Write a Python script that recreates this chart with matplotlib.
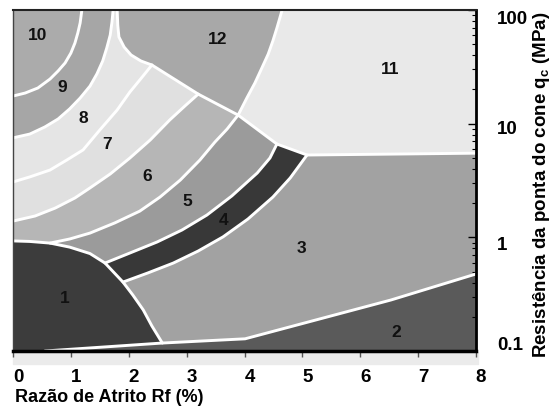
import matplotlib
matplotlib.use('Agg')
import matplotlib.pyplot as plt
from matplotlib.patches import Rectangle
from matplotlib.ticker import NullFormatter
from matplotlib.transforms import ScaledTranslation

plt.rcParams['font.family'] = 'Liberation Sans'
plt.rcParams['font.weight'] = 'bold'
plt.rcParams['mathtext.fontset'] = 'custom'
plt.rcParams['mathtext.rm'] = 'Liberation Sans:bold'
plt.rcParams['mathtext.it'] = 'Liberation Sans:bold'

# ── Zone boundaries: Rf (%) vs qc (MPa) ──────────────────────────────────────
rf_10_9 = [0, 0.21, 0.43, 0.64, 0.78, 0.90, 1.00, 1.07, 1.12, 1.16, 1.19]
qc_10_9 = [17.5, 18.6, 20.6, 24.7, 29.1, 34.2, 41.8, 51.2, 62.8, 76.9, 100]
rf_9_8 = [0, 0.29, 0.55, 0.78, 0.98, 1.16, 1.33, 1.45, 1.55, 1.62, 1.68, 1.71, 1.73]
qc_9_8 = [7.5, 8.1, 9.35, 11.0, 13.5, 16.8, 21.4, 27.4, 35.6, 46.3, 60.3, 78.4, 100]
rf_8_7 = [0, 0.29, 0.64, 0.93, 1.21, 1.50, 1.80, 2.02, 2.19, 2.40]
qc_8_7 = [3.07, 3.40, 3.91, 4.79, 5.87, 8.8, 13.2, 19.0, 24.2, 32.8]
rf_7_6 = [0, 0.38, 0.73, 1.07, 1.33, 1.68, 2.02, 2.37, 2.71, 2.97, 3.20]
qc_7_6 = [1.39, 1.54, 1.81, 2.22, 2.72, 3.61, 4.99, 7.18, 10.8, 14.3, 18.2]
rf_6_5 = [0.64, 0.98, 1.33, 1.76, 2.19, 2.54, 2.89, 3.23, 3.49, 3.70, 3.89]
qc_6_5 = [0.89, 0.967, 1.09, 1.34, 1.70, 2.26, 3.19, 4.79, 6.90, 8.97, 11.9]
rf_5_4 = [1.59, 2.02, 2.49, 2.92, 3.35, 3.78, 4.22, 4.44, 4.56]
qc_5_4 = [0.594, 0.728, 0.910, 1.16, 1.57, 2.31, 3.68, 4.99, 6.62]
rf_4_3 = [1.90, 2.33, 2.77, 3.20, 3.63, 4.06, 4.49, 4.79, 5.08]
qc_4_3 = [0.404, 0.486, 0.594, 0.758, 1.01, 1.45, 2.26, 3.33, 5.3]
rf_zone1 = [0, 0.29, 0.64, 0.98, 1.33, 1.59, 1.90, 2.07, 2.25, 2.40, 2.58]
qc_zone1 = [0.93, 0.92, 0.89, 0.82, 0.72, 0.594, 0.404, 0.311, 0.230, 0.166, 0.1175]
rf_zone2 = [0.55, 2.58, 4.01, 6.53, 8.0]
qc_zone2 = [0.1, 0.1175, 0.128, 0.281, 0.476]
rf_cusp = [1.80, 1.81, 1.83, 1.92, 2.04, 2.21, 2.40]
qc_cusp = [100, 73.8, 57.9, 47.2, 40.2, 35.6, 32.8]
rf_edge = [2.40, 3.20, 3.89, 4.56, 5.08, 8.0]
qc_edge = [32.8, 18.2, 11.9, 6.62, 5.3, 5.5]
rf_12_11 = [3.89, 4.04, 4.18, 4.30, 4.41, 4.49, 4.56, 4.61, 4.65]
qc_12_11 = [11.9, 16.8, 22.8, 30.9, 41.0, 53.4, 69.4, 85.0, 100]

zone_names = ['1', '2', '3', '4', '5', '6', '7', '8', '9', '10', '11', '12']
zone_colors = ['#3c3c3c', '#5a5a5a', '#a2a2a2', '#383838', '#9b9b9b', '#b6b6b6',
               '#e0e0e0', '#e5e5e5', '#a6a6a6', '#ababab', '#e9e9e9', '#a8a8a8']
label_rf = [0.90, 6.63, 4.99, 3.63, 3.01, 2.32, 1.62, 1.21, 0.85, 0.43, 6.51, 3.53]
label_qc = [0.292, 0.144, 0.805, 1.42, 2.05, 3.4, 6.5, 11.2, 21, 60, 29.7, 54.5]

x_ticks = [0, 1, 2, 3, 4, 5, 6, 7, 8]
y_ticks = [0.1, 1, 10, 100]
y_ticklabels = ['0.1', '1', '10', '100']

W, H = 555, 407
fig = plt.figure(figsize=(W / 100, H / 100), dpi=100)
ax = fig.add_axes([13 / W, 56 / H, 463 / W, 341 / H])
ax.set_yscale('log')
col = dict(zip(zone_names, zone_colors))
ax.set_facecolor(col['3'])

LO, HI, XL, XR = 0.01, 1000, -1, 9   # off-canvas corners, clipped by the axes


def band(rf, qc, c):
    ax.fill(list(rf) + [rf[-1], XL, XL], list(qc) + [HI, HI, qc[0]],
            color=c, lw=0)


# nested bands, outer first
band(rf_4_3, qc_4_3, col['4'])
band(rf_5_4, qc_5_4, col['5'])
band(rf_6_5, qc_6_5, col['6'])
band(rf_7_6, qc_7_6, col['7'])
band(rf_8_7, qc_8_7, col['8'])
band(rf_9_8, qc_9_8, col['9'])
band(rf_10_9, qc_10_9, col['10'])

# zone 12
ax.fill(rf_cusp + rf_edge[1:3] + rf_12_11[1:] + [rf_12_11[-1], rf_cusp[0]],
        qc_cusp + qc_edge[1:3] + qc_12_11[1:] + [HI, HI],
        color=col['12'], lw=0)
# zone 11
ax.fill(rf_12_11 + [rf_12_11[-1], XR, XR] + rf_edge[:2:-1],
        qc_12_11 + [HI, HI, qc_edge[-1]] + qc_edge[:2:-1],
        color=col['11'], lw=0)
# zone 2
ax.fill(rf_zone2 + [XR, XR, rf_zone2[0]],
        qc_zone2 + [qc_zone2[-1], LO, LO], color=col['2'], lw=0)
# zone 1
ax.fill([XL] + rf_zone1 + [rf_zone2[0], rf_zone2[0], XL],
        [qc_zone1[0]] + qc_zone1 + [qc_zone2[0], LO, LO],
        color=col['1'], lw=0)

# white boundary lines
for rf, qc in [(rf_10_9, qc_10_9), (rf_9_8, qc_9_8), (rf_8_7, qc_8_7),
               (rf_7_6, qc_7_6), (rf_6_5, qc_6_5), (rf_5_4, qc_5_4),
               (rf_4_3, qc_4_3), (rf_zone1, qc_zone1), (rf_zone2, qc_zone2),
               (rf_cusp, qc_cusp), (rf_edge, qc_edge), (rf_12_11, qc_12_11)]:
    ax.plot(rf, qc, color='white', lw=2.1, solid_joinstyle='round',
            solid_capstyle='round')

for name, x, y in zip(zone_names, label_rf, label_qc):
    ax.text(x, y, name, ha='center', va='center', fontsize=12.5,
            fontweight='bold', color='#111111')

ax.set_xlim(0, 8)
ax.set_ylim(0.1, 100)

# axes / ticks
ax.xaxis.set_ticks_position('bottom')
ax.yaxis.tick_right()
ax.set_xticks(x_ticks)
ax.set_yticks(y_ticks)
ax.set_yticklabels(y_ticklabels)
ax.yaxis.set_minor_formatter(NullFormatter())
ax.tick_params(axis='x', direction='out', length=4, width=1, color='#555555',
               pad=9, labelsize=13.5)
ax.tick_params(axis='y', which='major', direction='in', length=6, width=1,
               pad=15, labelsize=13.5)
ax.tick_params(axis='y', which='minor', direction='in', length=3, width=0.8)

for lab in ax.get_xticklabels():
    lab.set_transform(lab.get_transform() +
                      ScaledTranslation(5 / 100, 0, fig.dpi_scale_trans))
for lab, dy in zip(ax.get_yticklabels(), [8, -6, -4, -8]):
    lab.set_transform(lab.get_transform() +
                      ScaledTranslation(0, dy / 100, fig.dpi_scale_trans))

ax.spines['bottom'].set_linewidth(2.5)
ax.spines['right'].set_linewidth(2)
ax.spines['top'].set_linewidth(1.5)
ax.spines['top'].set_color('#222222')
ax.spines['left'].set_linewidth(1)
ax.spines['left'].set_color('#444444')

# light strip under the x axis
fig.add_artist(Rectangle((13 / W, (H - 364) / H), 465 / W, 12 / H,
                         transform=fig.transFigure, color='#ebebeb',
                         zorder=-1))

fig.text(15 / W, 1 - 397 / H, 'Razão de Atrito Rf (%)', ha='left',
         va='center', fontsize=13, fontweight='bold')
fig.text(542 / W, 1 - 185 / H,
         r'Resistência da ponta do cone q$_\mathrm{c}$ (MPa)',
         rotation=90, ha='center', va='center', fontsize=13.5,
         fontweight='bold')

fig.savefig('out.png', dpi=100)
